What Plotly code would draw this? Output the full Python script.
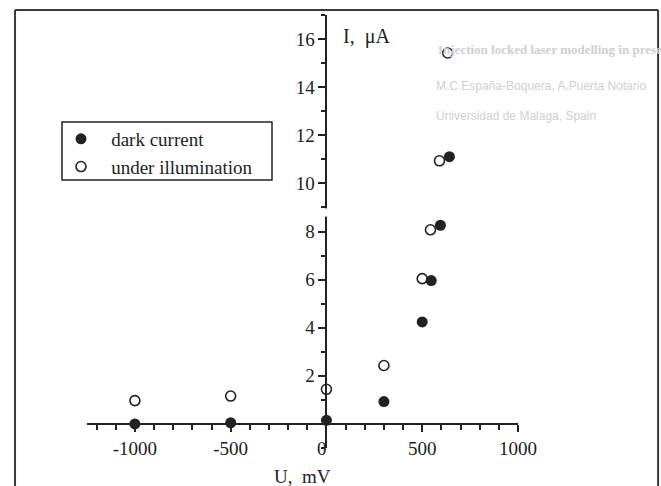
import plotly.graph_objects as go

# ---- data ----
voltage_dark = [-1000, -500, 0, 300, 500, 547, 595, 642]          # U, mV
current_dark = [0.0, 0.05, 0.15, 0.93, 4.24, 5.96, 8.26, 11.11]   # I, uA
voltage_illum = [-1000, -500, 0, 300, 500, 543, 590, 633]
current_illum = [0.97, 1.16, 1.44, 2.43, 6.04, 8.07, 10.94, 15.42]

x_tick_vals = [-1000, -500, 0, 500, 1000]
x_tick_text = ["-1000", "-500", "0\u2002", "500", "1000"]
y_tick_vals = [2, 4, 6, 8, 10, 12, 14, 16]
y_tick_text = ["2", "4", "6", "8", "10", "12", "14", "16"]

X_RANGE = [-1250, 1000]
Y_RANGE = [-1, 17]

INK = "#222222"
FONT = "Liberation Serif"
PAD = "\u2005\u2009\u200a"

fig = go.Figure()
fig.add_trace(go.Scatter(
    x=voltage_dark, y=current_dark, mode="markers", name=PAD + "dark current",
    marker=dict(symbol="circle", size=11, color=INK, line=dict(width=0)),
))
fig.add_trace(go.Scatter(
    x=voltage_illum, y=current_illum, mode="markers", name=PAD + "under illumination",
    marker=dict(symbol="circle-open", size=10, color=INK, line=dict(width=1.6)),
))

x_pos_of_y_axis = (0 - X_RANGE[0]) / (X_RANGE[1] - X_RANGE[0])
y_pos_of_x_axis = (0 - Y_RANGE[0]) / (Y_RANGE[1] - Y_RANGE[0])

fig.update_layout(
    width=661, height=486,
    margin=dict(l=87, r=143, t=15, b=38),
    paper_bgcolor="white", plot_bgcolor="white",
    font=dict(family=FONT, size=19, color=INK),
    showlegend=True,
    legend=dict(
        x=(61 - 87) / 431, xanchor="left", y=(448 - 120) / 433, yanchor="top",
        borderwidth=0, bgcolor="rgba(0,0,0,0)",
        font=dict(family=FONT, size=19, color=INK),
        itemwidth=30, tracegroupgap=0,
    ),
    xaxis=dict(
        range=X_RANGE, anchor="free", position=y_pos_of_x_axis,
        showgrid=False, zeroline=False,
        showline=True, linecolor=INK, linewidth=2,
        tickmode="array", tickvals=x_tick_vals, ticktext=x_tick_text,
        ticks="outside", ticklen=7, tickwidth=1.5, tickcolor=INK,
        minor=dict(dtick=100, tick0=0, ticks="outside", ticklen=5,
                   tickwidth=1.5, tickcolor=INK),
        tickfont=dict(family=FONT, size=19, color=INK),
    ),
    yaxis=dict(
        range=Y_RANGE, anchor="free", position=x_pos_of_y_axis,
        showgrid=False, zeroline=False,
        showline=True, linecolor=INK, linewidth=2,
        tickmode="array", tickvals=y_tick_vals, ticktext=y_tick_text,
        ticks="outside", ticklen=7, tickwidth=1.5, tickcolor=INK,
        minor=dict(dtick=1, tick0=0, ticks="outside", ticklen=4,
                   tickwidth=1.5, tickcolor=INK),
        tickfont=dict(family=FONT, size=19, color=INK),
    ),
)

# legend frame (drawn as a box around the legend entries)
fig.add_shape(type="rect", xref="paper", yref="paper",
              x0=(62 - 87) / 431, x1=(272 - 87) / 431,
              y0=(448 - 180) / 433, y1=(448 - 122) / 433,
              line=dict(color=INK, width=1.5), fillcolor="rgba(0,0,0,0)")

# break in the current axis between about 8.6 and 9
fig.add_shape(type="rect", xref="x", yref="y", xsizemode="pixel", xanchor=0,
              x0=-3, x1=3, y0=8.62, y1=8.96, fillcolor="white",
              line=dict(width=0), layer="above")

# scanned page frame
frame = dict(color="#3a3a3a", width=2)
fig.add_shape(type="line", xref="paper", yref="paper", x0=-0.167, x1=-0.167,
              y0=-0.2, y1=1.0115, line=frame)
fig.add_shape(type="line", xref="paper", yref="paper", x0=-0.167, x1=1.325,
              y0=1.0115, y1=1.0115, line=frame)
fig.add_shape(type="line", xref="paper", yref="paper", x0=1.325, x1=1.325,
              y0=-0.2, y1=1.0115, line=frame)

# axis titles
fig.add_annotation(text="I,&nbsp;&nbsp;\u03bcA", xref="x", yref="y", x=78, y=16.1,
                   xanchor="left", yanchor="middle", showarrow=False,
                   font=dict(family=FONT, size=20, color=INK))
fig.add_annotation(text="U,&nbsp;&nbsp;mV", xref="paper", yref="paper", x=0.5, y=0,
                   xanchor="center", yanchor="middle", yshift=-28, showarrow=False,
                   font=dict(family=FONT, size=19, color=INK))

# faint show-through text from the reverse of the scanned page
ghost = "#d0d0d0"
fig.add_annotation(text="<b>Injection locked laser modelling in prese</b>",
                   xref="paper", yref="paper", x=(436 - 87) / 431, y=(448 - 50) / 433,
                   xanchor="left", yanchor="middle", showarrow=False,
                   font=dict(family=FONT, size=13, color=ghost))
fig.add_annotation(text="M.C.Espa\u00f1a-Boquera, A.Puerta Notario",
                   xref="paper", yref="paper", x=(434 - 87) / 431, y=(448 - 86) / 433,
                   xanchor="left", yanchor="middle", showarrow=False,
                   font=dict(family="Liberation Sans", size=12, color=ghost))
fig.add_annotation(text="Universidad de Malaga, Spain",
                   xref="paper", yref="paper", x=(434 - 87) / 431, y=(448 - 116) / 433,
                   xanchor="left", yanchor="middle", showarrow=False,
                   font=dict(family="Liberation Sans", size=12, color=ghost))

fig.write_html("out.html", config={"displayModeBar": False},
               post_script="document.body.style.margin='0';document.body.style.overflow='hidden';")
